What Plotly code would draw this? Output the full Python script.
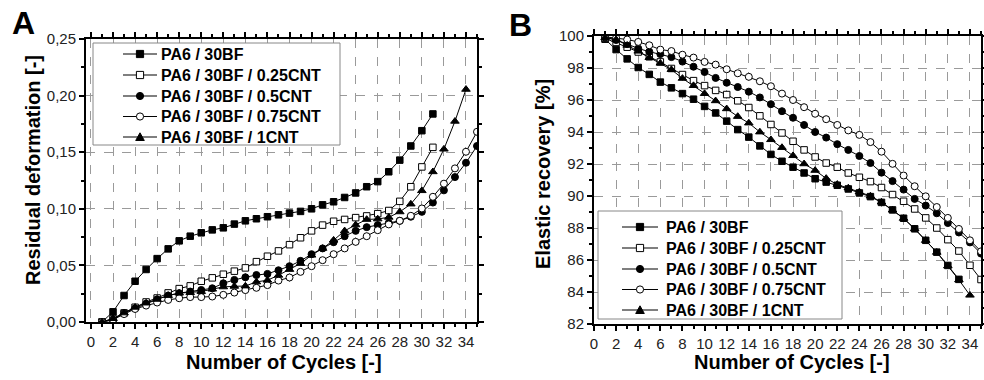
import plotly.graph_objects as go

# ---------------- data ----------------
cycles = list(range(1, 36))

series_names = ["PA6 / 30BF", "PA6 / 30BF / 0.25CNT", "PA6 / 30BF / 0.5CNT",
                "PA6 / 30BF / 0.75CNT", "PA6 / 30BF / 1CNT"]

# Panel A: residual deformation [-]
resid_30bf = [0, 0.009, 0.0234, 0.036, 0.0464, 0.056, 0.0646, 0.0717, 0.0758, 0.0788,
              0.0814, 0.0832, 0.0865, 0.0894, 0.0912, 0.093, 0.0947, 0.0962, 0.0977, 0.100,
              0.1035, 0.1062, 0.110, 0.114, 0.1195, 0.124, 0.1327, 0.143, 0.1555, 0.169,
              0.1838]
resid_025 = [0, 0.003, 0.008, 0.013, 0.0177, 0.0212, 0.0257, 0.0295, 0.0319, 0.036,
             0.039, 0.0422, 0.0449, 0.0478, 0.0533, 0.0581, 0.0628, 0.0683, 0.0744, 0.0805,
             0.0856, 0.089, 0.0906, 0.0922, 0.0937, 0.0957, 0.0985, 0.1066, 0.1195, 0.137,
             0.1543]
resid_05 = [0, 0.002, 0.008, 0.012, 0.0162, 0.020, 0.0234, 0.0255, 0.0269, 0.0283,
            0.0298, 0.0342, 0.0372, 0.0395, 0.0415, 0.0425, 0.0457, 0.0493, 0.054, 0.0599,
            0.065, 0.0705, 0.0758, 0.0805, 0.0838, 0.0856, 0.0875, 0.0894, 0.093, 0.0973,
            0.1055, 0.1163, 0.128, 0.1407, 0.1555]
resid_075 = [0, 0.002, 0.007, 0.0115, 0.0145, 0.0172, 0.0195, 0.021, 0.022, 0.022,
             0.0225, 0.024, 0.026, 0.0282, 0.0302, 0.0326, 0.0366, 0.0393, 0.0443, 0.0493,
             0.0546, 0.0599, 0.065, 0.0708, 0.0758, 0.0811, 0.0862, 0.0894, 0.0938, 0.1003,
             0.1106, 0.1222, 0.1357, 0.1504, 0.168]
resid_1 = [0, 0.003, 0.008, 0.013, 0.0167, 0.020, 0.0234, 0.0255, 0.026, 0.0269,
           0.029, 0.031, 0.0315, 0.0318, 0.0354, 0.0369, 0.0413, 0.0464, 0.0517, 0.059,
           0.065, 0.0723, 0.0805, 0.0858, 0.0906, 0.091, 0.0925, 0.0973, 0.1042, 0.116,
           0.1327, 0.1527, 0.1773, 0.2055]

# Panel B: elastic recovery [%]
elast_30bf = [99.8, 99.15, 98.57, 98.03, 97.6, 97.12, 96.76, 96.4, 96.05, 95.6,
              95.19, 94.68, 94.15, 93.68, 93.13, 92.6, 92.17, 91.8, 91.44, 91.08,
              90.87, 90.67, 90.44, 90.19, 89.96, 89.6, 89.13, 88.61, 87.95, 87.23,
              86.49, 85.66, 84.79]
elast_025 = [99.85, 99.6, 99.3, 99.0, 98.7, 98.38, 97.97, 97.59, 97.21, 96.9,
             96.6, 96.34, 95.95, 95.53, 95.01, 94.47, 93.94, 93.42, 92.88, 92.44,
             92.06, 91.8, 91.44, 91.17, 90.9, 90.53, 90.09, 89.67, 89.19, 88.63,
             88.0, 87.27, 86.56, 85.67, 84.78]
elast_05 = [99.9, 99.75, 99.5, 99.22, 99.02, 98.87, 98.68, 98.4, 98.08, 97.75,
            97.38, 97.08, 96.81, 96.52, 96.16, 95.74, 95.3, 94.89, 94.44, 94.0,
            93.65, 93.24, 92.88, 92.5, 92.06, 91.46, 90.93, 90.4, 89.82, 89.4,
            88.92, 88.31, 87.72, 87.1, 86.4]
elast_075 = [99.95, 99.88, 99.78, 99.63, 99.42, 99.15, 99.06, 98.83, 98.65, 98.38,
             98.21, 97.92, 97.67, 97.45, 97.17, 96.86, 96.4, 96.0, 95.55, 95.14,
             94.8, 94.44, 94.1, 93.82, 93.37, 92.77, 92.01, 91.28, 90.61, 89.98,
             89.31, 88.63, 87.94, 87.23, 86.54]
elast_1 = [99.9, 99.78, 99.42, 99.05, 98.65, 98.3, 97.9, 97.35, 96.9, 96.4,
           95.95, 95.45, 94.97, 94.56, 94.0, 93.52, 93.03, 92.52, 92.01, 91.6,
           91.1, 90.72, 90.5, 90.25, 90.0, 89.62, 89.12, 88.6, 87.95, 87.22,
           86.48, 85.63, 84.76, 83.8]

resid_series = [resid_30bf, resid_025, resid_05, resid_075, resid_1]
elast_series = [elast_30bf, elast_025, elast_05, elast_075, elast_1]

x_ticks = list(range(0, 35, 2))
yA_ticks = [0.0, 0.05, 0.10, 0.15, 0.20, 0.25]
yB_ticks = list(range(82, 101, 2))

# ---------------- styling ----------------
W, H = 984, 380
FONT = "Arial, Liberation Sans, sans-serif"
symbols = ["square", "square", "circle", "circle", "triangle-up"]
fills = ["black", "white", "black", "white", "black"]
sizes = [6.5, 6.5, 7, 7, 7.5]


def px_x(p):
    return p / W


def px_y(p):
    return 1 - p / H


fig = go.Figure()

for i, name in enumerate(series_names):
    marker = dict(symbol=symbols[i], size=sizes[i], color=fills[i],
                  line=dict(color="black", width=1))
    ya = resid_series[i]
    fig.add_trace(go.Scatter(x=cycles[:len(ya)], y=ya, name=name, mode="lines+markers",
                             line=dict(color="black", width=1), marker=marker,
                             xaxis="x", yaxis="y", showlegend=False))
    yb = elast_series[i]
    fig.add_trace(go.Scatter(x=cycles[:len(yb)], y=yb, name=name, mode="lines+markers",
                             line=dict(color="black", width=1), marker=marker,
                             xaxis="x2", yaxis="y2", showlegend=False))

axis_common = dict(
    showline=True, linecolor="black", linewidth=2, mirror="allticks",
    ticks="outside", ticklen=5, tickwidth=1.5, tickcolor="black",
    tickfont=dict(family=FONT, size=15, color="#222"),
    showgrid=True, gridcolor="#9a9a9a", gridwidth=1, griddash="dash",
    zeroline=False, automargin=False,
)


def minor(dt):
    return dict(dtick=dt, tick0=0, ticklen=3, tickcolor="black", ticks="outside",
                showgrid=False)


fig.update_layout(
    width=W, height=H, autosize=False,
    margin=dict(l=0, r=0, t=0, b=0, pad=0),
    paper_bgcolor="white", plot_bgcolor="white",
    separators=", ",
    font=dict(family=FONT, color="black"),
    showlegend=False,
    xaxis=dict(axis_common, domain=[px_x(86), px_x(477)], range=[-0.45, 35],
               tickmode="array", tickvals=x_ticks, anchor="y", minor=minor(1)),
    yaxis=dict(axis_common, domain=[px_y(322), px_y(39)], range=[0, 0.25],
               tickmode="array", tickvals=yA_ticks, tickformat=".2f", anchor="x",
               minor=minor(0.025)),
    xaxis2=dict(axis_common, domain=[px_x(594), px_x(981)], range=[0, 35],
                tickmode="array", tickvals=x_ticks, anchor="y2", minor=minor(1)),
    yaxis2=dict(axis_common, domain=[px_y(324), px_y(36)], range=[82, 100],
                tickmode="array", tickvals=yB_ticks, anchor="x2", minor=minor(1)),
)

# ---------------- legends (drawn in paper space) ----------------
legend_font = dict(family=FONT, size=16, color="black", weight="bold")


def draw_legend(box, rows_y, line_x0, line_x1, text_x):
    x0, y0, x1, y1 = box
    fig.add_shape(type="rect", xref="paper", yref="paper",
                  x0=px_x(x0), x1=px_x(x1), y0=px_y(y1), y1=px_y(y0),
                  fillcolor="white", line=dict(color="#888", width=1), layer="above")
    mx = (line_x0 + line_x1) / 2
    for i, name in enumerate(series_names):
        yy = rows_y[i]
        fig.add_shape(type="line", xref="paper", yref="paper",
                      x0=px_x(line_x0), x1=px_x(line_x1), y0=px_y(yy), y1=px_y(yy),
                      line=dict(color="black", width=1.2), layer="above")
        r = 3.6
        if symbols[i] == "square":
            fig.add_shape(type="rect", xref="paper", yref="paper",
                          x0=px_x(mx - r), x1=px_x(mx + r), y0=px_y(yy + r), y1=px_y(yy - r),
                          fillcolor=fills[i], line=dict(color="black", width=1), layer="above")
        elif symbols[i] == "circle":
            fig.add_shape(type="circle", xref="paper", yref="paper",
                          x0=px_x(mx - r), x1=px_x(mx + r), y0=px_y(yy + r), y1=px_y(yy - r),
                          fillcolor=fills[i], line=dict(color="black", width=1), layer="above")
        else:
            path = "M {:.5f} {:.5f} L {:.5f} {:.5f} L {:.5f} {:.5f} Z".format(
                px_x(mx - 4.3), px_y(yy + 3.5), px_x(mx + 4.3), px_y(yy + 3.5),
                px_x(mx), px_y(yy - 4.2))
            fig.add_shape(type="path", xref="paper", yref="paper", path=path,
                          fillcolor=fills[i], line=dict(color="black", width=1), layer="above")
        fig.add_annotation(text=name, xref="paper", yref="paper", x=px_x(text_x), y=px_y(yy),
                           xanchor="left", yanchor="middle", showarrow=False, font=legend_font)


draw_legend((93, 43, 340, 145), [54, 75, 96, 116.5, 137], 123, 157, 159)
draw_legend((598, 211, 842, 319), [227, 248, 269, 289.5, 310], 622, 658, 664)

# ---------------- titles ----------------
title_font = dict(family=FONT, size=20, color="black", weight="bold")
annotations = [
    dict(text="A", x=px_x(23), y=px_y(23), font=dict(family=FONT, size=32, weight="bold")),
    dict(text="B", x=px_x(520), y=px_y(25), font=dict(family=FONT, size=32, weight="bold")),
    dict(text="Residual deformation [-]", x=px_x(33), y=px_y(170), textangle=-90,
         font=title_font),
    dict(text="Elastic recovery [%]", x=px_x(543), y=px_y(174), textangle=-90,
         font=title_font),
    dict(text="Number of Cycles [-]", x=px_x(284), y=px_y(362), font=title_font),
    dict(text="Number of Cycles [-]", x=px_x(792), y=px_y(362), font=title_font),
]
for a in annotations:
    a.update(xref="paper", yref="paper", showarrow=False, xanchor="center", yanchor="middle")
    fig.add_annotation(**a)

fig.write_html(
    "out.html",
    config={"displayModeBar": False},
    post_script="document.body.style.margin='0';document.body.style.overflow='hidden';",
)
